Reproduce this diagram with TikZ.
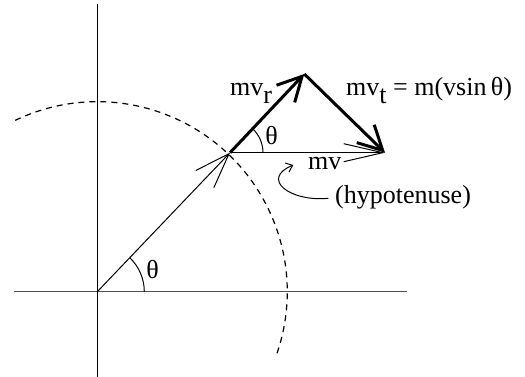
\documentclass[tikz,border=0pt]{standalone}
\usepackage{fontspec}
\setmainfont{Liberation Serif}
\usetikzlibrary{arrows.meta}
\definecolor{axisgray}{HTML}{505050}
\tikzset{
  axis/.style={line width=1.3pt, draw=black},
  haxis/.style={line width=1.3pt, draw=axisgray},
  orbit/.style={line width=1.2pt, dash pattern=on 6pt off 5pt},
  radvec/.style={line width=1pt, -{Straight Barb[length=35pt, width=25pt]}},
  hypvec/.style={line width=1.6pt, -{Straight Barb[length=39pt, width=18pt, line width=1pt]}},
  thickvec/.style={line width=3pt, -{Straight Barb[length=24pt, width=25pt]}},
  pointer/.style={line width=1pt, -{Straight Barb[length=6pt, width=10pt]}},
  anglearc/.style={line width=1pt},
  lbl/.style={inner sep=0pt, anchor=base west, font=\fontsize{26}{30}\selectfont},
  thlbl/.style={inner sep=0pt, font=\fontsize{26}{30}\selectfont}
}
\newcommand{\lowsub}[1]{\raisebox{-0.28em}{#1}}
\begin{document}
\begin{tikzpicture}[x=1pt,y=1pt]
  \useasboundingbox (-97.3,-85.3) rectangle (427.7,291.7);
  \coordinate (O) at (0,0);
  \coordinate (P) at (132.7,139);
  \coordinate (T) at (207,217.7);
  \coordinate (R) at (287.7,139);
  \coordinate (ytop) at (0,287.7);
  \coordinate (ybot) at (0,-85.3);
  \coordinate (xleft) at (-83.3,0);
  \coordinate (xright) at (309.7,0);
  \coordinate (hypS) at (231,93.4);
  \coordinate (hypE) at (196,126.7);

  \draw[axis] (ybot) -- (ytop);
  \draw[haxis] (xleft) -- (xright);
  \draw[orbit] (O) ++(115.6:190) arc[start angle=115.6, end angle=-19.7, radius=190];

  \draw[anglearc] (O) ++(0:47) arc[start angle=0, end angle=46.3, radius=47];
  \draw[anglearc] (P) ++(0:33) arc[start angle=0, end angle=46.6, radius=33];

  \draw[radvec] (O) -- (P);
  \draw[hypvec] (P) -- (R);
  \draw[thickvec] (P) -- (T);
  \draw[thickvec] (T) -- (R);
  \draw[pointer] (hypS) .. controls (192.7,89.7) and (162.7,112.7) .. (hypE);

  \node[thlbl] (thO) at (55.4,22.4) {θ};
  \node[thlbl] (thP) at (174.4,155.7) {θ};
  \node[lbl] (lblvr) at (132.7,195.7) {mv\lowsub{r}};
  \node[lbl] (lblvt) at (248.7,195.7) {mv\lowsub{t} = m(vsin\,θ)};
  \node[lbl] (lblv) at (210.7,121.7) {mv};
  \node[lbl] (lblhyp) at (237.7,88.4) {(hypotenuse)};
\end{tikzpicture}
\end{document}
